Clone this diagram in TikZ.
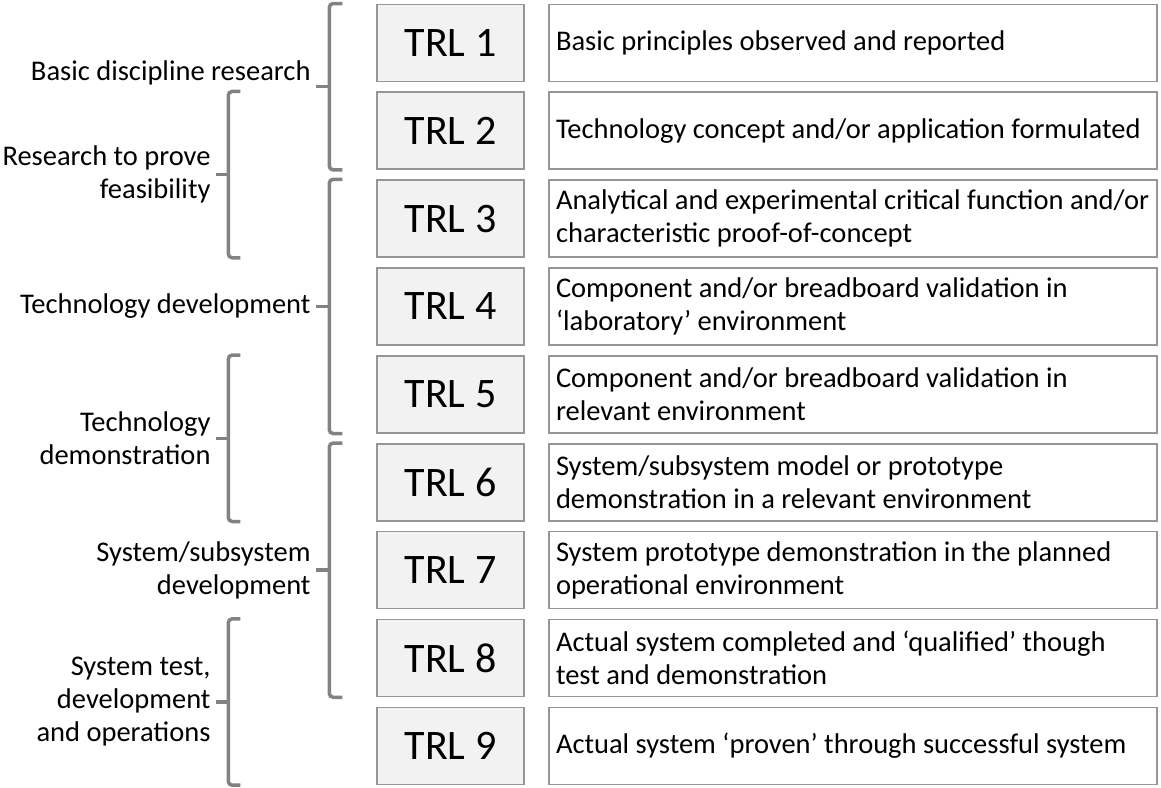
\documentclass[tikz,border=0pt]{standalone}
\usepackage{fontspec}
\setmainfont{Carlito}
\usepackage{tikz}
\usetikzlibrary{calc}

\definecolor{boxline}{RGB}{150,150,150}
\definecolor{boxfill}{RGB}{242,242,242}
\definecolor{braceline}{RGB}{130,130,130}

\begin{document}
\begin{tikzpicture}[x=1pt, y=-1pt,
    trl/.style={draw=boxline, line width=1.5pt, fill=boxfill, minimum width=147pt, minimum height=77pt, inner sep=0pt, font=\fontsize{42}{50}\selectfont},
    desc/.style={draw=boxline, line width=1.5pt, fill=white, minimum width=608pt, minimum height=77pt, text width=594pt, inner xsep=7pt, align=flush left, font=\fontsize{28.5}{33}\selectfont},
    brace/.style={draw=braceline, line width=3.5pt, rounded corners=4pt},
    phase/.style={anchor=east, align=flush right, inner xsep=4pt, font=\fontsize{28.5}{33}\selectfont}]

\useasboundingbox (0,0) rectangle (1161,787);

% ---------------- TRL Levels ----------------
\node[trl] (T1) at (450.5, 42.75)  {TRL 1};
\node[trl] (T2) at (450.5, 130.65) {TRL 2};
\node[trl] (T3) at (450.5, 218.55) {TRL 3};
\node[trl] (T4) at (450.5, 306.45) {TRL 4};
\node[trl] (T5) at (450.5, 394.35) {TRL 5};
\node[trl] (T6) at (450.5, 482.25) {TRL 6};
\node[trl] (T7) at (450.5, 570.15) {TRL 7};
\node[trl] (T8) at (450.5, 658.05) {TRL 8};
\node[trl] (T9) at (450.5, 745.95) {TRL 9};

% ---------------- Level Descriptions ----------------
\node[desc] (D1) at (853, 42.75)  {Basic principles observed and reported};
\node[desc] (D2) at (853, 130.65) {Technology concept and/or application formulated};
\node[desc] (D3) at (853, 218.55) {Analytical and experimental critical function and/or\\characteristic proof-of-concept};
\node[desc] (D4) at (853, 306.45) {Component and/or breadboard validation in\\‘laboratory’ environment};
\node[desc] (D5) at (853, 394.35) {Component and/or breadboard validation in\\relevant environment};
\node[desc] (D6) at (853, 482.25) {System/subsystem model or prototype\\demonstration in a relevant environment};
\node[desc] (D7) at (853, 570.15) {System prototype demonstration in the planned\\operational environment};
\node[desc] (D8) at (853, 658.05) {Actual system completed and ‘qualified’ though\\test and demonstration};
\node[desc] (D9) at (853, 745.95) {Actual system ‘proven’ through successful system};

% =========================================================
% Right column braces
% =========================================================
\draw[brace] ([xshift=-34pt]T1.north west) -- ([xshift=-47pt]T1.north west)
    -- ([xshift=-47pt]T2.south west) -- ([xshift=-34pt]T2.south west);
\coordinate (bA) at ($(T1.north west)!0.5!(T2.south west)+(-47,0)$);
\draw[brace] (bA) -- ++(-13,0) node[phase, yshift=14pt] (pA) {Basic discipline research};

\draw[brace] ([xshift=-34pt]T3.north west) -- ([xshift=-47pt]T3.north west)
    -- ([xshift=-47pt]T5.south west) -- ([xshift=-34pt]T5.south west);
\coordinate (bC) at ($(T3.north west)!0.5!(T5.south west)+(-47,0)$);
\draw[brace] (bC) -- ++(-13,0) node[phase] (pC) {Technology development};

\draw[brace] ([xshift=-34pt]T6.north west) -- ([xshift=-47pt]T6.north west)
    -- ([xshift=-47pt]T8.south west) -- ([xshift=-34pt]T8.south west);
\coordinate (bE) at ($(T6.north west)!0.5!(T8.south west)+(-47,0)$);
\draw[brace] (bE) -- ++(-13,0) node[phase] (pE) {System/subsystem\\development};

% =========================================================
% Left column braces
% =========================================================
\draw[brace] ([xshift=-136pt]T2.north west) -- ([xshift=-148pt]T2.north west)
    -- ([xshift=-148pt]T3.south west) -- ([xshift=-136pt]T3.south west);
\coordinate (bB) at ($(T2.north west)!0.5!(T3.south west)+(-148,0)$);
\draw[brace] (bB) -- ++(-12,0) node[phase] (pB) {Research to prove\\feasibility};

\draw[brace] ([xshift=-136pt]T5.north west) -- ([xshift=-148pt]T5.north west)
    -- ([xshift=-148pt]T6.south west) -- ([xshift=-136pt]T6.south west);
\coordinate (bD) at ($(T5.north west)!0.5!(T6.south west)+(-148,0)$);
\draw[brace] (bD) -- ++(-12,0) node[phase] (pD) {Technology\\demonstration};

\draw[brace] ([xshift=-136pt]T8.north west) -- ([xshift=-148pt]T8.north west)
    -- ([xshift=-148pt]T9.south west) -- ([xshift=-136pt]T9.south west);
\coordinate (bF) at ($(T8.north west)!0.5!(T9.south west)+(-148,0)$);
\draw[brace] (bF) -- ++(-12,0) node[phase] (pF) {System test,\\development\\and operations};

\end{tikzpicture}
\end{document}
